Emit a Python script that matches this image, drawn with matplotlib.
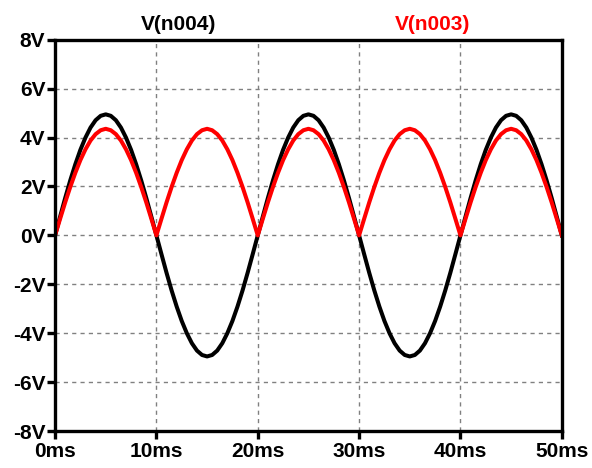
import numpy as np
from matplotlib import pyplot as plt

t_ms = np.arange(0, 50.5, 0.5)

# V(n004) - input sine, black
v_n004 = [0.00, 0.77, 1.53, 2.25, 2.91, 3.50, 4.00, 4.41, 4.71, 4.89,
          4.95, 4.89, 4.71, 4.41, 4.00, 3.50, 2.91, 2.25, 1.53, 0.77,
          0.00, -0.77, -1.53, -2.25, -2.91, -3.50, -4.00, -4.41, -4.71, -4.89,
          -4.95, -4.89, -4.71, -4.41, -4.00, -3.50, -2.91, -2.25, -1.53, -0.77,
          0.00, 0.77, 1.53, 2.25, 2.91, 3.50, 4.00, 4.41, 4.71, 4.89,
          4.95, 4.89, 4.71, 4.41, 4.00, 3.50, 2.91, 2.25, 1.53, 0.77,
          0.00, -0.77, -1.53, -2.25, -2.91, -3.50, -4.00, -4.41, -4.71, -4.89,
          -4.95, -4.89, -4.71, -4.41, -4.00, -3.50, -2.91, -2.25, -1.53, -0.77,
          0.00, 0.77, 1.53, 2.25, 2.91, 3.50, 4.00, 4.41, 4.71, 4.89,
          4.95, 4.89, 4.71, 4.41, 4.00, 3.50, 2.91, 2.25, 1.53, 0.77,
          0.00]

# V(n003) - rectified output, red
v_n003 = [0.00, 0.68, 1.35, 1.98, 2.56, 3.08, 3.52, 3.88, 4.14, 4.30,
          4.36, 4.30, 4.14, 3.88, 3.52, 3.08, 2.56, 1.98, 1.35, 0.68,
          0.00, 0.68, 1.35, 1.98, 2.56, 3.08, 3.52, 3.88, 4.14, 4.30,
          4.36, 4.30, 4.14, 3.88, 3.52, 3.08, 2.56, 1.98, 1.35, 0.68,
          0.00, 0.68, 1.35, 1.98, 2.56, 3.08, 3.52, 3.88, 4.14, 4.30,
          4.36, 4.30, 4.14, 3.88, 3.52, 3.08, 2.56, 1.98, 1.35, 0.68,
          0.00, 0.68, 1.35, 1.98, 2.56, 3.08, 3.52, 3.88, 4.14, 4.30,
          4.36, 4.30, 4.14, 3.88, 3.52, 3.08, 2.56, 1.98, 1.35, 0.68,
          0.00, 0.68, 1.35, 1.98, 2.56, 3.08, 3.52, 3.88, 4.14, 4.30,
          4.36, 4.30, 4.14, 3.88, 3.52, 3.08, 2.56, 1.98, 1.35, 0.68,
          0.00]

x_ticks = [0, 10, 20, 30, 40, 50]
x_labels = ['0ms', '10ms', '20ms', '30ms', '40ms', '50ms']
y_ticks = [-8, -6, -4, -2, 0, 2, 4, 6, 8]
y_labels = ['-8V', '-6V', '-4V', '-2V', '0V', '2V', '4V', '6V', '8V']

plt.rcParams['font.family'] = ['Liberation Sans', 'DejaVu Sans']
plt.rcParams['font.weight'] = 'bold'

fig = plt.figure(figsize=(5.92, 4.68), dpi=100)
ax = fig.add_axes([0.093, 0.079, 0.856, 0.836])

ax.plot(t_ms, v_n004, color='black', lw=2.9, solid_joinstyle='round')
ax.plot(t_ms, v_n003, color='#ff0000', lw=2.9, solid_joinstyle='round')

ax.set_xlim(0, 50)
ax.set_ylim(-8, 8)
ax.set_xticks(x_ticks)
ax.set_xticklabels(x_labels)
ax.set_yticks(y_ticks)
ax.set_yticklabels(y_labels)

ax.grid(True, color='#808080', linestyle=(0, (3, 3)), lw=1.0)
for s in ax.spines.values():
    s.set_linewidth(2.4)
ax.tick_params(axis='both', length=6, width=2.4, labelsize=15, pad=1)
ax.tick_params(axis='x', pad=2)

fig.text(0.301, 0.948, 'V(n004)', color='black', fontsize=15,
         fontweight='bold', ha='center', va='center')
fig.text(0.731, 0.948, 'V(n003)', color='#ff0000', fontsize=15,
         fontweight='bold', ha='center', va='center')

fig.savefig('out.png', dpi=100)
